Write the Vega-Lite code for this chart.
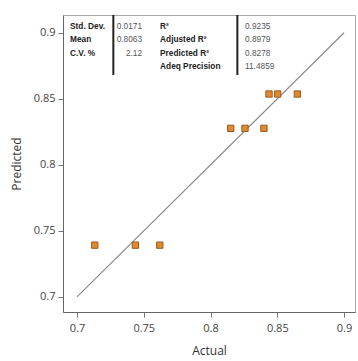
{
  "$schema": "https://vega.github.io/schema/vega-lite/v6.json",
  "width": 292,
  "height": 297,
  "autosize": {"type": "none"},
  "padding": {"left": 63, "top": 15, "right": 3, "bottom": 49},
  "background": "white",
  "config": {
    "view": {"stroke": "#aaaaaa", "strokeWidth": 1},
    "axis": {
      "labelFont": "Open Sans",
      "labelFontSize": 11,
      "labelColor": "#444444",
      "titleFont": "Open Sans",
      "titleFontSize": 12,
      "titleFontWeight": "normal",
      "titleColor": "#333333",
      "tickColor": "#777777",
      "tickSize": 5,
      "domainColor": "#666666",
      "grid": false
    }
  },
  "datasets": {
    "points": [
      {"actual": 0.7133, "predicted": 0.7392},
      {"actual": 0.7437, "predicted": 0.7392},
      {"actual": 0.762, "predicted": 0.7392},
      {"actual": 0.8151, "predicted": 0.8276},
      {"actual": 0.8258, "predicted": 0.8276},
      {"actual": 0.840, "predicted": 0.8276},
      {"actual": 0.8438, "predicted": 0.8536},
      {"actual": 0.8503, "predicted": 0.8536},
      {"actual": 0.865, "predicted": 0.8536}
    ],
    "diag": [{"v": 0.7}, {"v": 0.9}],
    "stats": [
      {"row": 1, "label": "Std. Dev.", "value": "0.0171", "label2": "R²", "value2": "0.9235"},
      {"row": 2, "label": "Mean", "value": "0.8063", "label2": "Adjusted R²", "value2": "0.8979"},
      {"row": 3, "label": "C.V. %", "value": "2.12", "label2": "Predicted R²", "value2": "0.8278"},
      {"row": 4, "label": "", "value": "", "label2": "Adeq Precision", "value2": "11.4859"}
    ],
    "bars": [{"top": 0.148, "bottom": 4.59}]
  },
  "resolve": {"scale": {"y": "independent"}, "axis": {"y": "independent"}},
  "layer": [
    {
      "layer": [
        {
          "data": {"name": "diag"},
          "mark": {"type": "line", "color": "#8a8a8a", "strokeWidth": 1.2},
          "encoding": {
            "x": {"field": "v", "type": "quantitative", "scale": {"domain": [0.6895, 0.9082], "nice": false, "zero": false},
              "axis": {"title": "Actual", "values": [0.7, 0.75, 0.8, 0.85, 0.9], "format": ".2~f", "labelPadding": 5, "titlePadding": 12}},
            "y": {"field": "v", "type": "quantitative", "scale": {"domain": [0.6886, 0.9134], "nice": false, "zero": false},
              "axis": {"title": "Predicted", "values": [0.7, 0.75, 0.8, 0.85, 0.9], "format": ".2~f", "labelPadding": 3, "titlePadding": 10}}
          }
        },
        {
          "data": {"name": "points"},
          "mark": {"type": "square", "size": 40, "fill": "#e08a2e", "stroke": "#9a5a1e", "strokeWidth": 1, "opacity": 1},
          "encoding": {
            "x": {"field": "actual", "type": "quantitative"},
            "y": {"field": "predicted", "type": "quantitative"}
          }
        }
      ]
    },
    {
      "layer": [
        {
          "data": {"name": "stats"},
          "mark": {"type": "text", "font": "Liberation Sans", "fontSize": 8.3, "fontWeight": "bold", "align": "left", "baseline": "middle", "color": "#222222"},
          "encoding": {
            "x": {"datum": 0.6948, "type": "quantitative"},
            "y": {"field": "row", "type": "quantitative", "scale": {"domain": [0.148, 22.148], "reverse": true, "nice": false, "zero": false}, "axis": null},
            "text": {"field": "label"}
          }
        },
        {
          "data": {"name": "stats"},
          "mark": {"type": "text", "font": "Liberation Sans", "fontSize": 8.3, "align": "right", "baseline": "middle", "color": "#555555"},
          "encoding": {
            "x": {"datum": 0.7487, "type": "quantitative"},
            "y": {"field": "row", "type": "quantitative"},
            "text": {"field": "value"}
          }
        },
        {
          "data": {"name": "stats"},
          "mark": {"type": "text", "font": "Liberation Sans", "fontSize": 8.3, "fontWeight": "bold", "align": "left", "baseline": "middle", "color": "#222222"},
          "encoding": {
            "x": {"datum": 0.7622, "type": "quantitative"},
            "y": {"field": "row", "type": "quantitative"},
            "text": {"field": "label2"}
          }
        },
        {
          "data": {"name": "stats"},
          "mark": {"type": "text", "font": "Liberation Sans", "fontSize": 8.3, "align": "left", "baseline": "middle", "color": "#555555"},
          "encoding": {
            "x": {"datum": 0.8258, "type": "quantitative"},
            "y": {"field": "row", "type": "quantitative"},
            "text": {"field": "value2"}
          }
        },
        {
          "data": {"name": "bars"},
          "mark": {"type": "rule", "color": "#222222", "strokeWidth": 2},
          "encoding": {
            "x": {"datum": 0.7272, "type": "quantitative"},
            "y": {"field": "top", "type": "quantitative"},
            "y2": {"field": "bottom"}
          }
        },
        {
          "data": {"name": "bars"},
          "mark": {"type": "rule", "color": "#222222", "strokeWidth": 2},
          "encoding": {
            "x": {"datum": 0.8201, "type": "quantitative"},
            "y": {"field": "top", "type": "quantitative"},
            "y2": {"field": "bottom"}
          }
        }
      ]
    }
  ]
}
